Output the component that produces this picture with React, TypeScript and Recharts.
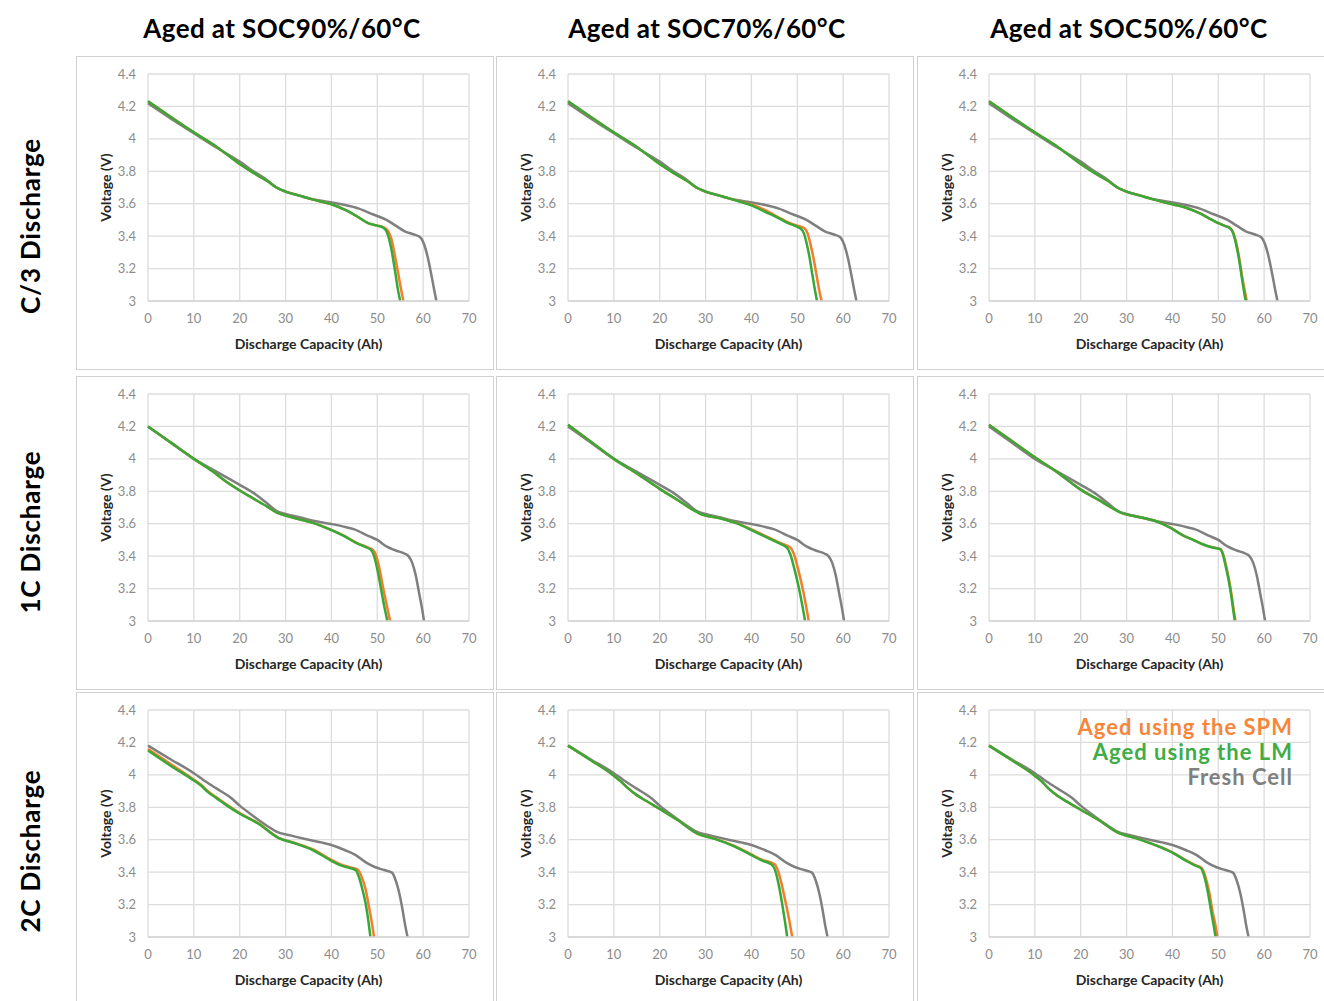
import React from 'react';
import { LineChart, Line, XAxis, YAxis, CartesianGrid, Legend } from 'recharts';

type Pt = [number, number];

const COLUMN_TITLES = ['Aged at SOC90%/60°C', 'Aged at SOC70%/60°C', 'Aged at SOC50%/60°C'];
const ROW_TITLES = ['C/3 Discharge', '1C Discharge', '2C Discharge'];
const X_TICKS = [0, 10, 20, 30, 40, 50, 60, 70];
const Y_TICKS = [3, 3.2, 3.4, 3.6, 3.8, 4, 4.2, 4.4];
const X_TITLE = 'Discharge Capacity (Ah)';
const Y_TITLE = 'Voltage (V)';
const NAME_FRESH = 'Fresh Cell';
const NAME_SPM = 'Aged using the SPM';
const NAME_LM = 'Aged using the LM';

// Fresh cell (same in each row)
const FRESH_C3: Pt[] = [[0,4.22],[5,4.125],[10,4.035],[15,3.945],[20,3.86],[23,3.8],[26,3.745],[28,3.7],[30,3.675],[33,3.65],[36,3.627],[40,3.607],[43,3.592],[46,3.57],[49,3.535],[52,3.5],[54,3.465],[56,3.43],[58,3.41],[59.3,3.395],[60.2,3.35],[61,3.27],[61.8,3.16],[62.4,3.07],[62.9,3.0]];
const FRESH_1C: Pt[] = [[0,4.2],[5,4.1],[10,4.0],[15,3.92],[20,3.84],[23,3.79],[26,3.725],[28,3.68],[30,3.66],[33,3.64],[36,3.618],[40,3.598],[43,3.58],[45,3.565],[48,3.525],[50,3.5],[52,3.46],[54,3.435],[56,3.415],[56.8,3.4],[57.6,3.36],[58.4,3.28],[59.2,3.16],[59.8,3.07],[60.2,3.0]];
const FRESH_2C: Pt[] = [[0,4.18],[5,4.095],[10,4.01],[12,3.97],[15,3.915],[18,3.86],[20,3.81],[23,3.745],[26,3.685],[28,3.65],[31,3.627],[35,3.6],[38,3.582],[40,3.567],[43,3.535],[45.3,3.505],[47.5,3.46],[49.6,3.43],[51.5,3.413],[53.2,3.397],[54,3.35],[54.8,3.27],[55.5,3.17],[56.1,3.07],[56.6,3.0]];

// C/3 discharge
const LM_C3_90: Pt[] = [[0,4.232],[5,4.135],[10,4.04],[15,3.95],[20,3.845],[23,3.79],[26,3.74],[28,3.7],[30,3.675],[33,3.65],[36,3.625],[40,3.597],[43,3.562],[46,3.515],[48,3.48],[50,3.465],[51.3,3.452],[52,3.43],[52.6,3.38],[53.2,3.3],[53.9,3.18],[54.5,3.07],[55,3.0]];
const SPM_C3_90: Pt[] = [[0,4.232],[5,4.135],[10,4.04],[15,3.95],[20,3.845],[23,3.79],[26,3.74],[28,3.7],[30,3.675],[33,3.65],[36,3.625],[40,3.597],[43,3.562],[46,3.515],[48,3.48],[50,3.465],[51.6,3.452],[52.4,3.43],[53.1,3.38],[53.7,3.3],[54.5,3.18],[55.2,3.07],[55.7,3.0]];
const LM_C3_70: Pt[] = [[0,4.232],[5,4.135],[10,4.04],[15,3.95],[20,3.845],[23,3.79],[26,3.74],[28,3.7],[30,3.675],[33,3.65],[36,3.625],[40,3.59],[43,3.55],[46,3.51],[48,3.48],[49.8,3.46],[50.8,3.445],[51.4,3.42],[52,3.36],[52.6,3.28],[53.3,3.16],[53.9,3.06],[54.3,3.0]];
const SPM_C3_70: Pt[] = [[0,4.232],[5,4.135],[10,4.04],[15,3.95],[20,3.845],[23,3.79],[26,3.74],[28,3.7],[30,3.675],[33,3.65],[36,3.625],[40,3.595],[43,3.56],[46,3.515],[48,3.485],[50,3.465],[51.5,3.45],[52.2,3.42],[52.8,3.36],[53.5,3.27],[54.2,3.16],[54.9,3.05],[55.3,3.0]];
const LM_C3_50: Pt[] = [[0,4.232],[5,4.135],[10,4.04],[15,3.95],[20,3.845],[23,3.79],[26,3.74],[28,3.7],[30,3.675],[33,3.65],[36,3.625],[40,3.597],[43,3.575],[46,3.54],[48,3.51],[50,3.48],[51.5,3.462],[52.5,3.45],[53.2,3.42],[53.8,3.36],[54.5,3.26],[55.1,3.15],[55.6,3.06],[56,3.0]];
const SPM_C3_50: Pt[] = [[0,4.232],[5,4.135],[10,4.04],[15,3.95],[20,3.845],[23,3.79],[26,3.74],[28,3.7],[30,3.675],[33,3.65],[36,3.625],[40,3.597],[43,3.575],[46,3.54],[48,3.51],[50,3.48],[51.6,3.462],[52.6,3.45],[53.3,3.42],[53.9,3.36],[54.6,3.26],[55.2,3.15],[55.8,3.06],[56.2,3.0]];

// 1C discharge
const LM_1C_90: Pt[] = [[0,4.2],[5,4.1],[10,4.0],[14,3.925],[17,3.86],[20,3.805],[23,3.755],[26,3.705],[28,3.67],[30,3.65],[33,3.628],[36,3.605],[40,3.56],[43,3.52],[45.5,3.48],[47.5,3.455],[48.6,3.44],[49.3,3.4],[50,3.32],[50.8,3.2],[51.6,3.08],[52.2,3.0]];
const SPM_1C_90: Pt[] = [[0,4.2],[5,4.1],[10,4.0],[14,3.925],[17,3.86],[20,3.805],[23,3.755],[26,3.705],[28,3.67],[30,3.65],[33,3.628],[36,3.605],[40,3.562],[43,3.522],[45.5,3.482],[47.8,3.455],[49,3.44],[49.8,3.4],[50.5,3.32],[51.3,3.2],[52.2,3.08],[52.8,3.0]];
const LM_1C_70: Pt[] = [[0,4.21],[5,4.105],[10,4.0],[15,3.91],[20,3.815],[24,3.745],[27,3.69],[29,3.66],[33,3.635],[37,3.6],[40,3.56],[43,3.52],[46,3.48],[47.8,3.45],[48.5,3.41],[49.2,3.34],[49.9,3.26],[50.6,3.17],[51.2,3.08],[51.7,3.0]];
const SPM_1C_70: Pt[] = [[0,4.21],[5,4.105],[10,4.0],[15,3.91],[20,3.815],[24,3.745],[27,3.69],[29,3.66],[33,3.635],[37,3.602],[40,3.565],[43,3.525],[46,3.485],[48.6,3.45],[49.3,3.41],[50,3.34],[50.7,3.26],[51.4,3.17],[52,3.08],[52.5,3.0]];
const LM_1C_50: Pt[] = [[0,4.21],[5,4.11],[10,4.01],[15,3.915],[20,3.81],[24,3.745],[27,3.695],[29,3.665],[32,3.645],[36,3.62],[39.4,3.577],[42.4,3.526],[44.5,3.5],[46.7,3.472],[48.5,3.455],[50.4,3.443],[51,3.41],[51.6,3.34],[52.2,3.26],[52.8,3.16],[53.2,3.08],[53.6,3.0]];
const SPM_1C_50: Pt[] = [[0,4.21],[5,4.11],[10,4.01],[15,3.915],[20,3.81],[24,3.745],[27,3.695],[29,3.665],[32,3.645],[36,3.62],[39.4,3.578],[42.4,3.527],[44.5,3.501],[46.7,3.473],[48.5,3.456],[50.5,3.443],[51.1,3.41],[51.7,3.34],[52.3,3.26],[52.9,3.16],[53.3,3.08],[53.75,3.0]];

// 2C discharge
const LM_2C_90: Pt[] = [[0,4.15],[5,4.055],[10,3.965],[11.5,3.935],[13,3.895],[15,3.855],[17,3.815],[20,3.76],[24,3.7],[28.5,3.61],[32,3.578],[36,3.535],[40,3.47],[42,3.442],[44,3.425],[45.3,3.412],[46,3.37],[46.7,3.3],[47.5,3.2],[48.1,3.09],[48.5,3.0]];
const SPM_2C_90: Pt[] = [[0,4.16],[5,4.065],[10,3.97],[11.5,3.94],[13,3.9],[15,3.86],[17,3.82],[20,3.765],[24,3.702],[28.5,3.612],[32,3.58],[36,3.54],[40,3.476],[42,3.448],[44,3.43],[45.8,3.415],[46.6,3.37],[47.4,3.3],[48.1,3.2],[48.8,3.09],[49.3,3.0]];
const LM_2C_70: Pt[] = [[0,4.18],[5,4.09],[10,3.995],[11.5,3.96],[13,3.92],[15,3.875],[17,3.84],[20,3.79],[24,3.72],[28,3.64],[32,3.605],[36,3.562],[40,3.505],[42,3.475],[44.5,3.445],[45.3,3.4],[46.1,3.3],[46.9,3.17],[47.4,3.08],[47.8,3.0]];
const SPM_2C_70: Pt[] = [[0,4.18],[5,4.09],[10,3.995],[11.5,3.96],[13,3.92],[15,3.875],[17,3.84],[20,3.79],[24,3.72],[28,3.64],[32,3.607],[36,3.565],[40,3.51],[42,3.48],[45,3.45],[45.9,3.4],[46.8,3.3],[47.7,3.18],[48.4,3.08],[48.9,3.0]];
const LM_2C_50: Pt[] = [[0,4.18],[5,4.09],[10,3.995],[11.5,3.96],[13,3.915],[15,3.87],[17,3.835],[20,3.785],[24,3.72],[28,3.645],[32,3.61],[36,3.57],[40,3.52],[43,3.47],[45,3.44],[46.2,3.425],[46.9,3.38],[47.7,3.28],[48.5,3.15],[49,3.07],[49.4,3.0]];
const SPM_2C_50: Pt[] = [[0,4.18],[5,4.09],[10,3.995],[11.5,3.96],[13,3.915],[15,3.87],[17,3.835],[20,3.785],[24,3.72],[28,3.645],[32,3.61],[36,3.57],[40,3.522],[43,3.472],[45,3.443],[46.4,3.425],[47.1,3.38],[48,3.28],[48.8,3.15],[49.4,3.07],[49.8,3.0]];

const FRESH_ROWS: Pt[][] = [FRESH_C3, FRESH_1C, FRESH_2C];
const SPM_GRID: Pt[][][] = [
  [SPM_C3_90, SPM_C3_70, SPM_C3_50],
  [SPM_1C_90, SPM_1C_70, SPM_1C_50],
  [SPM_2C_90, SPM_2C_70, SPM_2C_50],
];
const LM_GRID: Pt[][][] = [
  [LM_C3_90, LM_C3_70, LM_C3_50],
  [LM_1C_90, LM_1C_70, LM_1C_50],
  [LM_2C_90, LM_2C_70, LM_2C_50],
];

const COLOR_FRESH = '#7f7f7f';
const COLOR_SPM = '#f47d2c';
const COLOR_LM = '#38a838';
const FONT = "Lato, 'Noto Sans', sans-serif";

const COL_X = [76, 496, 917];
const ROW_Y = [56, 376, 692];
const TITLE_CX = [282, 707, 1129];
const ROW_CY = [226, 532, 851];
const PANEL_W = 418;
const PANEL_H = 314;

const toObj = (pts: Pt[]) => pts.map(([x, v]) => ({ x, v }));

const LegendContent = () => (
  <div style={{ textAlign: 'right', fontFamily: FONT, fontWeight: 700, fontSize: 22, letterSpacing: 1, lineHeight: '25px', whiteSpace: 'nowrap' }}>
    <div style={{ color: '#f7853a', height: 25 }}>{NAME_SPM}</div>
    <div style={{ color: '#40ac45', height: 25 }}>{NAME_LM}</div>
    <div style={{ color: '#7f7f7f', height: 25 }}>{NAME_FRESH}</div>
  </div>
);

const Panel = ({ r, c }: { r: number; c: number }) => {
  const showLegend = r === 2 && c === 2;
  return (
    <div style={{ position: 'absolute', left: COL_X[c], top: ROW_Y[r], width: PANEL_W, height: PANEL_H }}>
      <div style={{ position: 'absolute', left: 0, top: 0, width: PANEL_W, height: PANEL_H, boxSizing: 'border-box', border: '1px solid #d0d0d0' }} />
      <LineChart width={PANEL_W} height={PANEL_H} margin={{ top: 18, right: 25, bottom: 0, left: 0 }} style={{ position: 'absolute', left: 0, top: 0 }}>
        <CartesianGrid stroke="#dcdcdc" strokeWidth={1.3} />
        <XAxis
          type="number"
          dataKey="x"
          domain={[0, 70]}
          ticks={X_TICKS}
          interval={0}
          height={69}
          tickLine={false}
          tickSize={0}
          tickMargin={13}
          axisLine={{ stroke: '#d4d4d4', strokeWidth: 1.3 }}
          tick={{ fill: '#8c8c8c', fontSize: 13, fontFamily: FONT }}
          label={{ value: X_TITLE, position: 'insideBottom', offset: 21, style: { fontFamily: FONT, fontWeight: 700, fontSize: 14, fill: '#262626' } }}
        />
        <YAxis
          type="number"
          dataKey="v"
          domain={[3, 4.4]}
          ticks={Y_TICKS}
          interval={0}
          width={72}
          allowDataOverflow
          tickLine={false}
          tickSize={0}
          tickMargin={12}
          axisLine={false}
          tick={{ fill: '#8c8c8c', fontSize: 13, fontFamily: FONT }}
          label={{ value: Y_TITLE, angle: -90, position: 'insideLeft', offset: 30, style: { textAnchor: 'middle', fontFamily: FONT, fontWeight: 700, fontSize: 14, fill: '#262626' } }}
        />
        <Line data={toObj(FRESH_ROWS[r])} dataKey="v" name={NAME_FRESH} type="monotone" stroke={COLOR_FRESH} strokeWidth={2.5} dot={false} isAnimationActive={false} />
        <Line data={toObj(SPM_GRID[r][c])} dataKey="v" name={NAME_SPM} type="monotone" stroke={COLOR_SPM} strokeWidth={2.5} dot={false} isAnimationActive={false} />
        <Line data={toObj(LM_GRID[r][c])} dataKey="v" name={NAME_LM} type="monotone" stroke={COLOR_LM} strokeWidth={2.5} dot={false} isAnimationActive={false} />
        {showLegend && (
          <Legend
            layout="vertical"
            align="center"
            verticalAlign="middle"
            content={LegendContent}
            wrapperStyle={{ position: 'absolute', top: 22, right: 42, left: 'auto', bottom: 'auto', width: 'auto', height: 'auto' }}
          />
        )}
      </LineChart>
    </div>
  );
};

export default function App() {
  return (
    <div style={{ position: 'absolute', left: 0, top: 0, width: 1324, height: 1001, background: '#fff', overflow: 'hidden' }}>
      {COLUMN_TITLES.map((t, i) => (
        <div key={t} style={{ position: 'absolute', left: TITLE_CX[i] - 200, top: 12, width: 400, height: 32, lineHeight: '32px', textAlign: 'center', fontFamily: FONT, fontWeight: 700, fontSize: 26, letterSpacing: 0.4, color: '#000' }}>
          {t}
        </div>
      ))}
      {ROW_TITLES.map((t, i) => (
        <div key={t} style={{ position: 'absolute', left: 30 - 150, top: ROW_CY[i] - 16, width: 300, height: 32, lineHeight: '32px', textAlign: 'center', fontFamily: FONT, fontWeight: 700, fontSize: 26, letterSpacing: 0.8, color: '#000', transform: 'rotate(-90deg)' }}>
          {t}
        </div>
      ))}
      {[0, 1, 2].map((r) => [0, 1, 2].map((c) => <Panel key={`${r}-${c}`} r={r} c={c} />))}
    </div>
  );
}
